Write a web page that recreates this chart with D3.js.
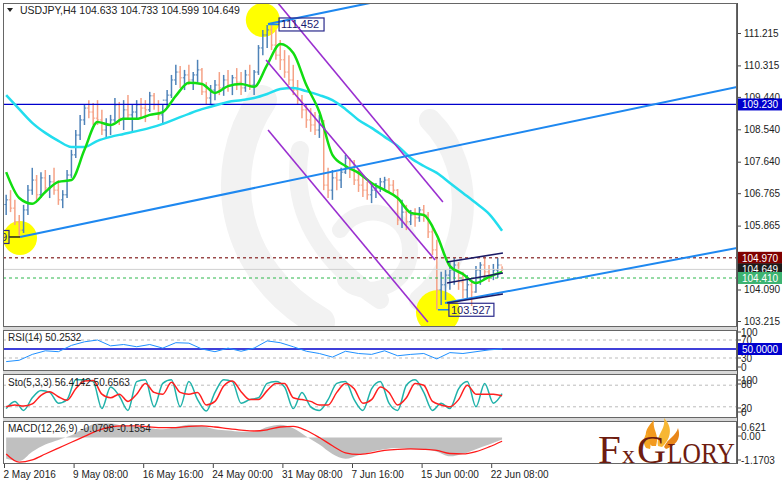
<!DOCTYPE html>
<html><head><meta charset="utf-8">
<script src="https://cdn.jsdelivr.net/npm/d3@7"></script>
<style>
body{margin:0;background:#fff}
svg{display:block;font-family:"Liberation Sans",Arial,sans-serif}
</style></head>
<body><svg id="c" width="782" height="486"></svg>
<script>
// ---------------- DATA ----------------
const symbol = "USDJPY,H4";
const headerOHLC = ["104.633","104.733","104.599","104.649"];
const timeLabels = ["2 May 2016","9 May 08:00","16 May 16:00","24 May 00:00","31 May 08:00","7 Jun 16:00","15 Jun 00:00","22 Jun 08:00"];
const timeLabelBars = [0,32,64,96,128,160,192,224];
const priceTicks = [111.215,110.315,109.440,108.540,107.640,106.765,105.865,104.970,104.090,103.215];

const firstOpen = 106.45;
const highs = [106.72,106.85,106.58,106.16,106.44,106.99,107.47,107.27,107.35,107.41,
107.27,107.47,107.13,106.85,107.41,107.97,108.52,108.94,109.22,109.35,
109.27,109.35,109.08,108.85,108.94,109.41,109.30,109.35,109.49,109.22,
109.35,109.41,109.35,109.58,109.55,109.35,109.22,109.63,110.05,110.33,
110.30,110.19,110.33,110.13,110.47,110.24,109.85,109.77,109.91,110.13,
110.05,110.19,110.05,110.24,110.13,110.19,110.33,110.19,110.88,111.30,
111.44,111.452,111.30,111.02,110.74,110.60,110.33,109.91,109.49,109.22,
109.13,109.02,108.94,108.80,107.47,107.41,107.35,107.47,107.83,107.74,
107.69,107.41,107.27,107.08,106.99,107.05,107.19,107.22,107.19,107.13,
106.88,106.58,106.44,106.30,106.35,106.38,106.44,106.24,105.88,105.47,
104.58,104.63,104.85,104.97,104.85,104.58,104.49,104.35,104.74,104.85,
105.02,104.77,104.80,104.97,104.733];
const lows = [106.16,106.24,105.88,105.58,105.66,106.16,106.72,106.58,106.63,106.80,
106.63,106.72,106.44,106.35,106.63,107.19,107.74,108.24,108.66,108.85,
108.66,108.66,108.38,108.30,108.38,108.74,108.66,108.52,108.80,108.47,
108.80,108.85,108.74,109.02,109.08,108.80,108.66,109.13,109.41,109.77,
109.69,109.63,109.77,109.63,109.85,109.49,109.22,109.24,109.35,109.49,
109.47,109.58,109.49,109.63,109.49,109.58,109.63,109.49,110.05,110.60,
110.80,110.74,110.47,110.19,109.97,109.77,109.49,109.22,108.85,108.58,
108.47,108.38,108.30,106.85,106.63,106.58,106.85,106.91,107.30,107.19,
106.99,106.80,106.66,106.58,106.49,106.63,106.80,106.85,106.77,106.72,
105.88,105.80,105.74,105.88,105.83,105.97,105.97,105.52,105.05,103.527,
103.66,103.80,104.08,104.22,104.08,103.85,103.80,103.63,104.00,104.22,
104.41,104.30,104.35,104.41,104.599];
const closes = [106.58,106.35,105.97,105.74,106.30,106.85,107.13,106.72,107.19,106.91,
107.08,106.85,106.58,106.72,107.27,107.83,108.38,108.80,109.13,109.02,
108.85,108.80,108.52,108.66,108.80,109.22,108.85,109.08,108.94,109.02,
109.22,109.13,109.08,109.47,109.22,108.94,109.35,109.49,109.91,110.13,
109.97,110.05,109.91,110.05,110.19,109.58,109.41,109.63,109.77,109.69,
109.91,109.77,109.97,109.85,109.69,110.05,109.77,110.13,110.80,111.16,
111.30,110.88,110.60,110.47,110.13,109.91,109.63,109.35,109.08,108.80,
108.66,108.52,108.66,106.99,106.85,107.19,107.13,107.35,107.74,107.41,
107.13,106.99,106.85,106.72,106.85,106.91,107.08,107.13,106.99,106.85,
106.02,106.24,105.97,106.16,106.08,106.30,106.16,105.69,105.19,104.08,
104.22,104.49,104.63,104.77,104.30,104.08,104.22,104.02,104.63,104.77,
104.58,104.49,104.63,104.77,104.649];

// moving averages sampled every 6 H4 bars
const maFast = [107.35,106.63,106.47,106.80,107.08,107.13,107.97,108.74,108.66,108.83,
108.83,108.94,109.02,109.47,109.83,109.80,109.55,109.74,109.80,109.72,
110.33,110.91,110.66,109.77,109.02,107.83,107.52,107.33,107.05,106.85,
106.63,106.22,106.16,105.60,104.74,104.52,104.27,104.44,104.58];
const maSlow = [109.49,109.10,108.72,108.44,108.22,108.05,108.05,108.22,108.33,108.41,
108.49,108.58,108.69,108.83,108.97,109.10,109.20,109.30,109.35,109.41,
109.52,109.66,109.69,109.60,109.49,109.35,109.10,108.80,108.58,108.33,
108.08,107.74,107.52,107.33,107.05,106.77,106.49,106.19,105.72];

// RSI(14), sampled every 6 H4 bars
const rsiValues = [22,25,38,46,44,58,66,70,57,60,55,60,52,64,63,50,44,52,45,52,
68,64,55,45,40,32,45,40,38,46,35,38,40,28,42,40,44,48,50.25];

// Stochastic(5,3,3), sampled every 4 H4 bars
const stoMain = [15,35,10,45,65,60,30,40,95,95,90,15,75,50,10,90,95,20,85,95,
20,90,40,8,60,95,90,30,40,45,85,90,75,15,60,20,10,40,85,90,
40,10,70,90,30,10,80,95,60,10,30,15,70,90,20,85,30,56.41];
const stoSignal = [20,25,22,28,52,62,48,38,70,92,93,55,45,55,35,55,85,60,55,88,
60,55,60,25,35,78,92,62,40,40,65,85,85,45,40,35,25,25,60,85,
70,30,40,75,60,25,45,85,80,35,25,20,40,80,55,55,55,50.66];

// MACD(12,26,9), sampled every 6 H4 bars
const macdMain = [-0.9,-1.0,-0.6,-0.3,-0.1,0.1,0.4,0.6,0.6,0.5,0.45,0.4,0.35,0.45,0.55,0.5,0.35,0.3,0.25,0.25,
0.45,0.55,0.4,0.05,-0.3,-0.7,-0.9,-0.75,-0.6,-0.5,-0.45,-0.5,-0.5,-0.6,-0.8,-0.7,-0.5,-0.3,-0.08];
const macdSignal = [-0.7,-1.05,-0.95,-0.7,-0.45,-0.2,0.05,0.3,0.45,0.5,0.5,0.45,0.42,0.42,0.48,0.5,0.45,0.38,0.32,0.28,
0.33,0.45,0.48,0.3,0.0,-0.35,-0.65,-0.72,-0.65,-0.55,-0.5,-0.48,-0.5,-0.55,-0.68,-0.7,-0.6,-0.4,-0.155];

// horizontal levels
const levelBlue = 109.230, levelRes = 104.970, levelBid = 104.649, levelSup = 104.410;
// trend objects: [barFrom, priceFrom, barTo, priceTo]
const purpleLines = [[125.5,112.08,201.8,106.52],[120.5,110.465,198.2,104.91],[121.4,108.52,194.9,103.19]];
const blueLines = [[7.36,105.549,337,109.715],[121.4,111.465,168.3,112.05],[202.8,103.715,337,105.243]];
const navyLines = [[203.7,104.854,229.4,105.104],[203.7,104.271,229.4,104.549],[203.7,103.715,229.4,103.965]];
const circles = [[119,111.577],[7.36,105.52],[199.5,103.465]];
const tags = [{bar:121.4,price:111.452,text:"111.452",dir:1},{bar:199.5,price:103.527,text:"103.527",dir:1},{bar:7.36,price:105.549,text:"105.549",dir:-1}];

// ---------------- DRAW ----------------
const svg = d3.select("#c");
svg.append("rect").attr("width",782).attr("height",486).attr("fill","#fff");
const L = 3, R = 737;
const panes = {price:[3,327], rsi:[330,371], sto:[374,418], macd:[421,464]};

const xs = d3.scaleLinear().domain([0,336]).range([4,734.8]);
const yP = d3.scaleLinear().domain([103.215,111.215]).range([321,33]);
const yR = d3.scaleLinear().domain([0,100]).range([371.5,326.5]);
const yS = d3.scaleLinear().domain([0,100]).range([414,378]);
const yM = d3.scaleLinear().domain([-1.1703,0.621]).range([465,423]);

const defs = svg.append("defs");
Object.entries(panes).forEach(([k,[t,b]])=>{
  defs.append("clipPath").attr("id","clip-"+k).append("rect").attr("x",L).attr("y",t).attr("width",R-L).attr("height",b-t);
});
const gP = svg.append("g").attr("clip-path","url(#clip-price)");

// watermark
const wm = gP.append("g").attr("fill","none").attr("stroke","#f2f2f2").attr("stroke-linecap","round");
wm.append("path").attr("d","M262 100 C215 170 230 270 320 322").attr("stroke-width",30);
wm.append("path").attr("d","M300 150 C290 210 320 260 380 300").attr("stroke-width",18);
wm.append("path").attr("d","M430 120 C480 170 470 260 420 300").attr("stroke-width",22);
wm.append("path").attr("d","M340 230 C360 200 410 210 410 250 C410 290 360 300 345 280").attr("stroke-width",16);

// yellow circles
const radii = [17,17,22];
gP.selectAll(".circ").data(circles).enter().append("circle")
  .attr("cx",d=>xs(d[0])).attr("cy",d=>yP(d[1])).attr("r",(d,i)=>radii[i]).attr("fill","#ffff00");

// bars
const bars = highs.map((h,k)=>({i:2*k+1,h,l:lows[k],c:closes[k],o:k?closes[k-1]:firstOpen}));
const gb = gP.append("g");
bars.forEach(b=>{
  const col = b.c>=b.o ? "#4f83b8" : "#f5a286";
  const x = xs(b.i);
  gb.append("line").attr("x1",x).attr("x2",x).attr("y1",yP(b.h)).attr("y2",yP(b.l)).attr("stroke",col).attr("stroke-width",1.5);
  gb.append("line").attr("x1",x-1.8).attr("x2",x).attr("y1",yP(b.o)).attr("y2",yP(b.o)).attr("stroke",col).attr("stroke-width",1);
  gb.append("line").attr("x1",x).attr("x2",x+1.8).attr("y1",yP(b.c)).attr("y2",yP(b.c)).attr("stroke",col).attr("stroke-width",1);
});

// horizontal levels
const hl = (v,col,dash,w)=>gP.append("line").attr("x1",L).attr("x2",R).attr("y1",yP(v)).attr("y2",yP(v)).attr("stroke",col).attr("stroke-width",w).attr("stroke-dasharray",dash);
hl(levelBid,"#d0d0d0",null,1);
hl(levelBlue,"#0000cd",null,1.2);
hl(levelRes,"#9b4a4a","3,3",1.5);
hl(levelSup,"#2db84d","3,3",1.2);

// MAs
const maLine = d3.line().x((d,j)=>xs(6*j+1)).y(d=>yP(d)).curve(d3.curveMonotoneX);
gP.append("path").attr("d",maLine(maSlow)).attr("fill","none").attr("stroke","#22ddee").attr("stroke-width",2.5);
gP.append("path").attr("d",maLine(maFast)).attr("fill","none").attr("stroke","#11dd11").attr("stroke-width",2.5);

// trend lines
const seg = (arr,col,w)=>gP.selectAll(null).data(arr).enter().append("line")
  .attr("x1",d=>xs(d[0])).attr("y1",d=>yP(d[1])).attr("x2",d=>xs(d[2])).attr("y2",d=>yP(d[3]))
  .attr("stroke",col).attr("stroke-width",w);
seg(purpleLines,"#9a2fd0",1.6);
seg(blueLines,"#1e88f0",2);
seg(navyLines,"#1b1b66",1.6);

// price tags
tags.forEach(t=>{
  const x0 = xs(t.bar), y0 = yP(t.price);
  const bw = 45, bh = 13;
  const x1 = x0 + t.dir*11;
  gP.append("line").attr("x1",x0).attr("x2",x1).attr("y1",y0).attr("y2",y0).attr("stroke",t.dir>0?"#1e88f0":"#222").attr("stroke-width",1.5);
  const bx = t.dir>0 ? x1 : x1-bw;
  gP.append("rect").attr("x",bx).attr("y",y0-bh/2).attr("width",bw).attr("height",bh).attr("fill","none").attr("stroke","#2a2a8c").attr("stroke-width",1.2);
  gP.append("text").attr("x",t.dir>0?bx+2:x1-2).attr("text-anchor",t.dir>0?"start":"end").attr("y",y0+4).attr("font-size",11).attr("fill","#1a1a70").text(t.text);
});

// ---------- RSI ----------
const gR = svg.append("g").attr("clip-path","url(#clip-rsi)");
[70,30].forEach(v=>gR.append("line").attr("x1",L).attr("x2",R).attr("y1",yR(v)).attr("y2",yR(v)).attr("stroke","#bbb").attr("stroke-dasharray","3,3"));
gR.append("line").attr("x1",L).attr("x2",R).attr("y1",yR(50)).attr("y2",yR(50)).attr("stroke","#0000cd").attr("stroke-width",1.3);
gR.append("path").attr("d",d3.line().x((d,j)=>xs(6*j+1)).y(d=>yR(d))(rsiValues)).attr("fill","none").attr("stroke","#1e90ff").attr("stroke-width",1);

// ---------- Sto ----------
const gS = svg.append("g").attr("clip-path","url(#clip-sto)");
[80,20].forEach(v=>gS.append("line").attr("x1",L).attr("x2",R).attr("y1",yS(v)).attr("y2",yS(v)).attr("stroke","#bbb").attr("stroke-dasharray","3,3"));
const sLine = d3.line().x((d,m)=>xs(4*m+1)).y(d=>yS(d)).curve(d3.curveMonotoneX);
gS.append("path").attr("d",sLine(stoMain)).attr("fill","none").attr("stroke","#20b2aa").attr("stroke-width",1.5);
gS.append("path").attr("d",sLine(stoSignal)).attr("fill","none").attr("stroke","#ff2020").attr("stroke-width",1.5);

// ---------- MACD ----------
const gM = svg.append("g").attr("clip-path","url(#clip-macd)");
gM.append("path").attr("d",d3.area().x((d,j)=>xs(6*j+1)).y0(yM(0)).y1(d=>yM(d)).curve(d3.curveMonotoneX)(macdMain)).attr("fill","#c0c0c0");
gM.append("path").attr("d",d3.line().x((d,j)=>xs(6*j+1)).y(d=>yM(d)).curve(d3.curveMonotoneX)(macdSignal)).attr("fill","none").attr("stroke","#ff1a1a").attr("stroke-width",1.3);

// ---------- frames ----------
const fr = svg.append("g");
fr.append("rect").attr("x",L).attr("y",327).attr("width",R-L).attr("height",3).attr("fill","#d8d8d8");
fr.append("rect").attr("x",L).attr("y",371).attr("width",R-L).attr("height",3).attr("fill","#d8d8d8");
fr.append("rect").attr("x",L).attr("y",418).attr("width",R-L).attr("height",3).attr("fill","#d8d8d8");
Object.values(panes).forEach(([t,b])=>fr.append("rect").attr("x",L+0.5).attr("y",t+0.5).attr("width",R-L-1).attr("height",b-t-1).attr("fill","none").attr("stroke","#666"));

// ---------- axes ----------
const axP = svg.append("g").attr("transform",`translate(${R},0)`).call(d3.axisRight(yP).tickValues(priceTicks).tickSize(4).tickFormat(d3.format(".3f")));
axP.select(".domain").remove();
axP.selectAll("text").attr("font-size",10).attr("fill","#222").attr("font-family","Liberation Sans, Arial");
axP.selectAll("line").attr("stroke","#444");

const axT = svg.append("g").attr("transform",`translate(0,${panes.macd[1]})`).call(d3.axisBottom(xs).tickValues(timeLabelBars).tickSize(4).tickFormat((d,i)=>timeLabels[i]));
axT.select(".domain").remove();
axT.selectAll("text").attr("text-anchor","start").attr("dx",-1).attr("font-size",10).attr("fill","#222").attr("font-family","Liberation Sans, Arial");
axT.selectAll("line").attr("stroke","#444");

// right side labels
const tagR = (v,y,bg,txt)=>{
  svg.append("rect").attr("x",R+1).attr("y",y-6).attr("width",44).attr("height",12).attr("fill",bg);
  svg.append("text").attr("x",R+5).attr("y",y+4).attr("font-size",10).attr("fill","#fff").text(txt);
};
tagR(levelBlue,yP(levelBlue),"#0000cd","109.230");
tagR(levelRes,yP(levelRes),"#800000","104.970");
tagR(levelBid,yP(levelBid),"#1c1c1c","104.649");
tagR(levelSup,yP(levelSup),"#3cb371","104.410");

const sideText = (txt,y)=>svg.append("text").attr("x",R+4).attr("y",y+3.5).attr("font-size",10).attr("fill","#222").text(txt);
const tickAt = y=>svg.append("line").attr("x1",R).attr("x2",R+4).attr("y1",y).attr("y2",y).attr("stroke","#444");
sideText("100",332); sideText("70",340); sideText("30",358); sideText("0",367);
[332,340,358,367].forEach(tickAt);
tagR(50,yR(50),"#0000cd","50.0000");
sideText("100",380); sideText("80",384); sideText("20",408); sideText("0",412);
[380,384,408,412].forEach(tickAt);
sideText("0.621",427); sideText("0.00",436); sideText("-1.1703",460);
[427,436,460].forEach(tickAt);
svg.append("line").attr("x1",R+0.5).attr("x2",R+0.5).attr("y1",3).attr("y2",464).attr("stroke","#555");

// ---------- titles ----------
svg.append("path").attr("d","M7 8 L13 8 L10 12 Z").attr("fill","#222");
svg.append("text").attr("x",20).attr("y",14).attr("font-size",10.5).attr("fill","#222").text(symbol+"  "+headerOHLC.join(" "));
svg.append("text").attr("x",8).attr("y",341).attr("font-size",10).attr("fill","#222").text("RSI(14) 50.2532");
svg.append("text").attr("x",8).attr("y",386).attr("font-size",10).attr("fill","#222").text("Sto(5,3,3) 56.4142 50.6563");
svg.append("text").attr("x",8).attr("y",432).attr("font-size",10).attr("fill","#222").text("MACD(12,26,9) -0.0798 -0.1554");

// ---------- logo ----------
const lg = svg.append("g");
const fl = lg.append("g").attr("fill","#f39a1e");
fl.append("path").attr("d","M652 446 C640 436 648 426 654 420 C652 430 660 434 656 446 Z");
fl.append("path").attr("d","M658 446 C656 434 666 430 664 418 C674 428 670 440 662 447 Z").attr("fill","#f7b733");
fl.append("path").attr("d","M664 447 C668 438 676 436 678 428 C682 440 674 446 666 449 Z").attr("fill","#e8861a");
fl.append("path").attr("d","M646 448 C642 442 644 436 648 432 C648 440 652 444 650 449 Z").attr("fill","#f5a623");
const lt = lg.append("g").attr("fill","#6e1c10").attr("font-family","Liberation Serif, Times New Roman, serif");
lt.append("text").attr("x",598).attr("y",463).attr("font-size",41).text("F");
lt.append("text").attr("x",622).attr("y",463).attr("font-size",26).text("x");
lt.append("text").attr("x",637).attr("y",463).attr("font-size",40).attr("textLength",29).attr("lengthAdjust","spacingAndGlyphs").text("G");
lt.append("text").attr("x",667).attr("y",463).attr("font-size",29).attr("textLength",68).attr("lengthAdjust","spacingAndGlyphs").text("LORY");
</script></body></html>
